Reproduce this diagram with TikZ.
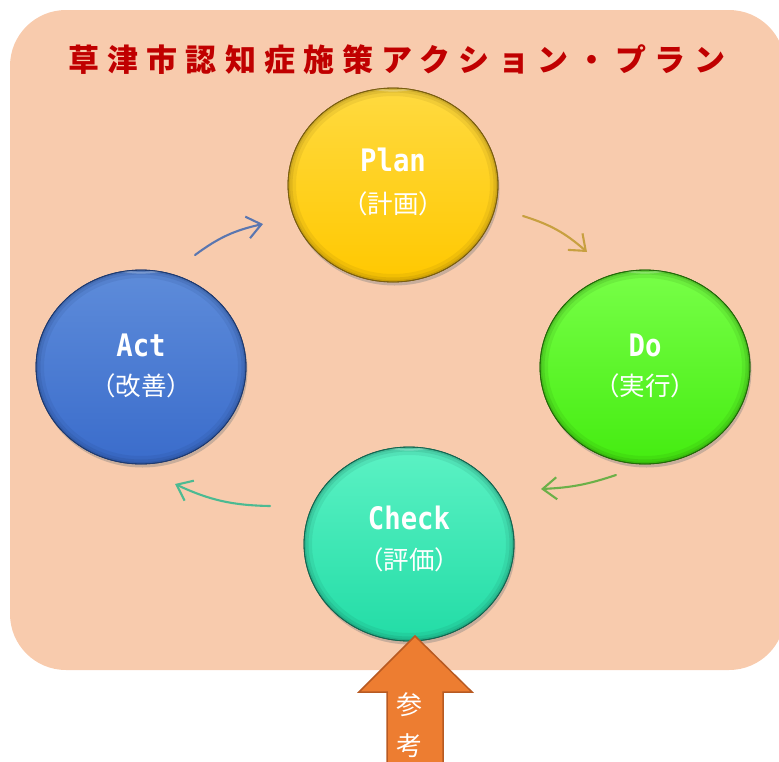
\documentclass[tikz,border=0pt]{standalone}
\usepackage{fontspec}
\usetikzlibrary{shapes.geometric,arrows.meta,shadows}
\newfontfamily\jp{Noto Sans CJK JP}
\newfontfamily\jptitle[LetterSpace=26.5]{Noto Sans CJK JP}
\setmonofont{DejaVu Sans Mono}
\definecolor{bgpeach}{HTML}{F8CBAD}
\definecolor{titlered}{HTML}{C00000}
\definecolor{plantop}{HTML}{FFDA40}
\definecolor{planbot}{HTML}{FFC800}
\definecolor{planedge}{HTML}{7A5E10}
\definecolor{acttop}{HTML}{5E8CDA}
\definecolor{actbot}{HTML}{3A6CCB}
\definecolor{actedge}{HTML}{1E3A70}
\definecolor{dotop}{HTML}{78FF48}
\definecolor{dobot}{HTML}{44EC10}
\definecolor{doedge}{HTML}{226A08}
\definecolor{chktop}{HTML}{5CF2C4}
\definecolor{chkbot}{HTML}{22DCA6}
\definecolor{chkedge}{HTML}{146650}
\definecolor{arrA}{HTML}{5A76B0}
\definecolor{arrP}{HTML}{C8A040}
\definecolor{arrD}{HTML}{6CB048}
\definecolor{arrC}{HTML}{4CBA92}
\definecolor{refor}{HTML}{ED7D31}
\definecolor{refedge}{HTML}{B85A22}
\tikzset{
  phase/.style={ellipse, minimum width=210pt, minimum height=194pt, inner sep=0pt,
    line width=0.8pt, drop shadow={opacity=0.4, shadow xshift=1.5pt, shadow yshift=-3.5pt}},
  entitle/.style={text=white, inner sep=0pt, font=\ttfamily\bfseries\fontsize{31}{31}\selectfont},
  jatitle/.style={text=white, inner sep=0pt, font=\jp\fontsize{25.5}{25.5}\selectfont},
  cyc/.style={line width=2.1pt, line cap=round, -{Straight Barb[length=14pt,width=22pt,line width=2.1pt]}},
}
\newcommand{\bevelring}[2]{%
  \begin{scope}
    \clip (#1) ellipse [x radius=105, y radius=97];
    \draw[#2, draw opacity=0.10, line width=16pt] (#1) ellipse [x radius=105, y radius=97];
    \draw[#2, draw opacity=0.14, line width=9pt] (#1) ellipse [x radius=105, y radius=97];
    \draw[#2, draw opacity=0.20, line width=4pt] (#1) ellipse [x radius=105, y radius=97];
    \draw[white, draw opacity=0.25, line width=2pt] ([yshift=-3pt]#1.north) arc[start angle=90, end angle=150, x radius=102, y radius=94];
    \draw[white, draw opacity=0.25, line width=2pt] ([yshift=-3pt]#1.north) arc[start angle=90, end angle=30, x radius=102, y radius=94];
  \end{scope}
  \draw[#2, line width=0.8pt] (#1) ellipse [x radius=105, y radius=97];
}
\begin{document}
\begin{tikzpicture}[x=1pt,y=-1pt]
\useasboundingbox (0,0) rectangle (779,761);
% background
\fill[bgpeach, rounded corners=56pt] (10,10) rectangle (785,670);
% title
\node[anchor=west, inner sep=0pt, text=titlered, font=\jptitle\bfseries\fontsize{31}{31}\selectfont] (title) at (68,60) {草津市認知症施策アクション・プラン};
% circles
\node[phase, top color=plantop, bottom color=planbot, draw=planedge] (plan) at (393,185) {};
\node[phase, top color=acttop, bottom color=actbot, draw=actedge] (act) at (141,367) {};
\node[phase, top color=dotop, bottom color=dobot, draw=doedge] (do) at (645,367) {};
\node[phase, top color=chktop, bottom color=chkbot, draw=chkedge] (check) at (409,544) {};
\bevelring{plan}{planedge}
\bevelring{act}{actedge}
\bevelring{do}{doedge}
\bevelring{check}{chkedge}
% labels
\node[entitle] (planen) at (393,160) {\scalebox{0.88}[1]{Plan}};
\node[jatitle] (planja) at (393,204) {（計画）};
\node[entitle] (acten) at (141,345) {\scalebox{0.88}[1]{Act}};
\node[jatitle] (actja) at (141,386) {（改善）};
\node[entitle] (doen) at (645,345) {\scalebox{0.88}[1]{Do}};
\node[jatitle] (doja) at (645,386) {（実行）};
\node[entitle] (checken) at (409,518) {\scalebox{0.88}[1]{Check}};
\node[jatitle] (checkja) at (409,560) {（評価）};
% cycle arrows
\coordinate (a1) at (195,255); \coordinate (a2) at (263,224);
\coordinate (p1) at (523,216); \coordinate (p2) at (587,252);
\coordinate (d1) at (616,475); \coordinate (d2) at (541,489);
\coordinate (c1) at (270,506); \coordinate (c2) at (175,484);
\draw[cyc, arrA] (a1) to[bend left=12] (a2);
\draw[cyc, arrP] (p1) to[bend left=12] (p2);
\draw[cyc, arrD] (d1) to[bend left=8] (d2);
\draw[cyc, arrC] (c1) to[bend left=12] (c2);
% reference arrow
\draw[fill=refor, draw=refedge, line width=1.5pt, line join=miter]
  (415,636) -- (472,692) -- (443,692) -- (443,775) -- (387,775) -- (387,692) -- (359,692) -- cycle;
\node[text=white, inner sep=0pt, font=\jp\fontsize{26}{26}\selectfont] (ref1) at (409,705) {参};
\node[text=white, inner sep=0pt, font=\jp\fontsize{26}{26}\selectfont] (ref2) at (409,746) {考};
\end{tikzpicture}
\end{document}
